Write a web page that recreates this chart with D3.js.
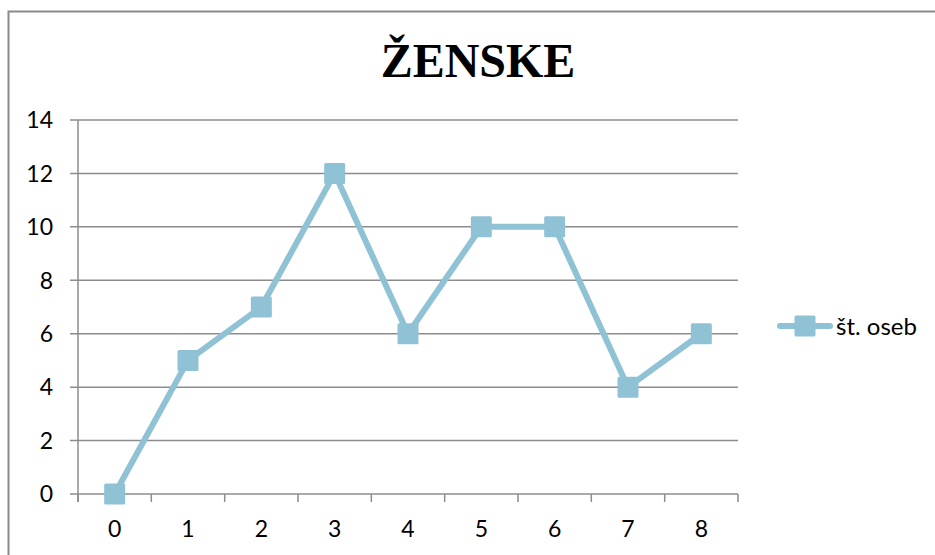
<!DOCTYPE html>
<html><head><meta charset="utf-8">
<script src="https://cdn.jsdelivr.net/npm/d3@7"></script>
<style>
html,body{margin:0;padding:0;background:#fff;}
svg{display:block;}
</style></head>
<body>
<svg id="c" width="935" height="555"></svg>
<script>
const categories = ["0","1","2","3","4","5","6","7","8"];
const values = [0, 5, 7, 12, 6, 10, 10, 4, 6];
const yTicks = [0, 2, 4, 6, 8, 10, 12, 14];
const title = "ŽENSKE";
const seriesName = "št. oseb";

(function () {
const color = "#8fc2d5";
const gridColor = "#8c8c8c";
const font = "Lato, 'Open Sans', sans-serif";

const svg = d3.select("#c");
// chart frame
svg.append("rect").attr("x", 8.5).attr("y", 11.5).attr("width", 1000).attr("height", 1000)
  .attr("fill", "#fff").attr("stroke", "#8a8a8a").attr("stroke-width", 2);

const pLeft = 78, pRight = 738, pTop = 120, pBottom = 494;
const x = d3.scaleBand().domain(categories).range([pLeft, pRight]);
const y = d3.scaleLinear().domain([0, 14]).range([pBottom, pTop]);

// gridlines
svg.append("g").selectAll("line").data(yTicks).join("line")
  .attr("x1", pLeft - 8).attr("x2", pRight)
  .attr("y1", d => y(d)).attr("y2", d => y(d))
  .attr("stroke", gridColor).attr("stroke-width", 1.5);

// y axis line
svg.append("line").attr("x1", pLeft).attr("x2", pLeft).attr("y1", pTop).attr("y2", pBottom + 8)
  .attr("stroke", gridColor).attr("stroke-width", 1.5);

// x axis ticks at band boundaries
const bounds = categories.map(c => x(c)).concat([pRight]);
svg.append("g").selectAll("line").data(bounds).join("line")
  .attr("x1", d => d).attr("x2", d => d).attr("y1", pBottom).attr("y2", pBottom + 8)
  .attr("stroke", gridColor).attr("stroke-width", 1.5);

// y labels
svg.append("g").selectAll("text").data(yTicks).join("text")
  .attr("x", 53).attr("y", d => y(d)).attr("dy", "0.36em")
  .attr("text-anchor", "end").attr("font-family", font).attr("font-size", 23).attr("fill", "#000")
  .text(d => d);

// x labels
svg.append("g").selectAll("text").data(categories).join("text")
  .attr("x", d => x(d) + x.bandwidth() / 2).attr("y", 529).attr("dy", "0.36em")
  .attr("text-anchor", "middle").attr("font-family", font).attr("font-size", 23).attr("fill", "#000")
  .text(d => d);

// title
svg.append("text").attr("x", 478).attr("y", 77).attr("text-anchor", "middle")
  .attr("font-family", "'Liberation Serif', 'Times New Roman', serif").attr("font-weight", "bold")
  .attr("font-size", 48).attr("fill", "#000").text(title);

// line
const pts = categories.map((c, i) => [x(c) + x.bandwidth() / 2, y(values[i])]);
svg.append("path").attr("d", d3.line()(pts)).attr("fill", "none")
  .attr("stroke", color).attr("stroke-width", 6).attr("stroke-linejoin", "round").attr("stroke-linecap", "round");

const ms = 21;
svg.append("g").selectAll("rect").data(pts).join("rect")
  .attr("x", d => d[0] - ms / 2).attr("y", d => d[1] - ms / 2)
  .attr("width", ms).attr("height", ms).attr("rx", 1.5).attr("fill", color);

// legend
const ly = 326;
svg.append("line").attr("x1", 780).attr("x2", 830).attr("y1", ly).attr("y2", ly)
  .attr("stroke", color).attr("stroke-width", 6).attr("stroke-linecap", "round");
svg.append("rect").attr("x", 805 - ms / 2).attr("y", ly - ms / 2).attr("width", ms).attr("height", ms)
  .attr("rx", 1.5).attr("fill", color);
svg.append("text").attr("x", 836).attr("y", ly).attr("dy", "0.36em")
  .attr("font-family", font).attr("font-size", 24).attr("fill", "#000").text(seriesName);
})();
</script>
</body></html>
